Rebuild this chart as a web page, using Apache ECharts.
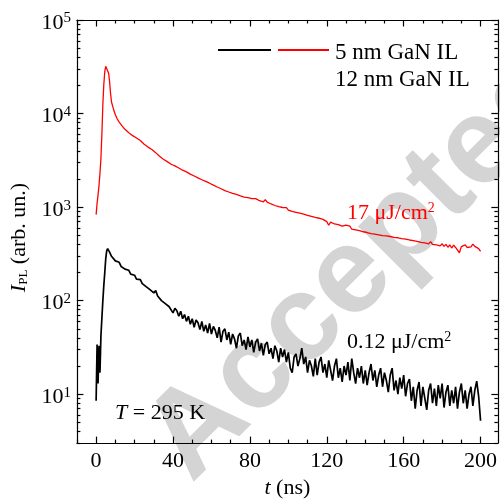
<!DOCTYPE html>
<html><head><meta charset="utf-8">
<script src="https://cdn.jsdelivr.net/npm/echarts@6.0.0/dist/echarts.min.js"></script>
<style>html,body{margin:0;padding:0;background:#fff}#c{width:500px;height:504px}</style>
</head><body><div id="c"></div>
<script>
// ---- data ----
const timeNs = [0,0.5,1,1.5,2,2.5,3,3.5,4,4.5,5,5.5,6,6.5,7,7.5,8,
9,10,11,12,13,14,15,16,17,18,19,20,21,22,23,24,25,26,27,28,29,30,31,32,33,34,35,36,37,38,39,40,
41,42,43,44,45,46,47,48,49,50,51,52,53,54,55,56,57,58,59,60,61,62,63,64,65,66,67,68,69,70,
71,72,73,74,75,76,77,78,79,80,81,82,83,84,85,86,87,88,89,90,91,92,93,94,95,96,97,98,99,100,
101,102,103,104,105,106,107,108,109,110,111,112,113,114,115,116,117,118,119,120,
121,122,123,124,125,126,127,128,129,130,131,132,133,134,135,136,137,138,139,140,
141,142,143,144,145,146,147,148,149,150,151,152,153,154,155,156,157,158,159,160,
161,162,163,164,165,166,167,168,169,170,171,172,173,174,175,176,177,178,179,180,
181,182,183,184,185,186,187,188,189,190,191,192,193,194,195,196,197,198,199,200];

const lowFluence = [8.5,34,13,33,17,42,65,100,145,200,280,340,360,345,330,318,298,
284,266,255,257,232,238,217,208,211,192,
185,187,170,165,168,152,155,141,145,131,
136,121,128,112,114,100,104,93,97,86,
90,74,83,78,68,77,64,71,60,68,
56,64,52,62,58,49,60,47,55,45,
57,44,53,48,40,52,36,47,50,38,
46,34,44,39,31,42,45,33,38,30,
41,32,38,28,36,39,29,35,26,34,
36,27,31,24,33,29,22,31,25,30,
22,28,19,17,25,27,20,24,31,21,
25,17,23,20,15.5,24,16,22,25,17,
21,15,23,18,14,20,24,15,19,13.5,
20,16,22,14,24,17,13,19,15,20,
13,18,12.5,17,21,14,18,12,16,19,
12,17,14,10.5,16,19,11,14,10,15,
11.5,16,9.5,13,14.5,8.5,12,7,11,13.5,
7.5,12,9,6.8,11,13,8,11.5,7.5,12.5,
9,13,7.2,10.5,12.5,7.5,11,8,12,7,
10.5,13,8,11,7,10,12,7.5,11,13.8,9.5,5.2];

const highFluence = [830,1100,1350,1700,2300,3300,6000,12500,20500,28000,32000,32500,31000,27000,22000,16500,13300,
11200,9700,8750,8100,7600,7150,6800,6500,6250,6000,5800,5650,
5480,5300,5150,4920,4700,4600,4380,4250,4120,3950,
3820,3680,3500,3390,3250,3150,3060,2960,2870,2800,
2760,2650,2620,2520,2480,2420,2380,2280,2250,2170,
2150,2080,2050,1990,1960,1900,1880,1830,1800,1740,
1720,1680,1640,1600,1570,1550,1500,1480,1450,1420,
1400,1390,1370,1330,1320,1310,1280,1290,1260,1270,
1230,1210,1230,1190,1170,1180,1140,1200,1130,1110,
1080,1100,1040,1060,1010,1030,990,960,985,930,
950,900,915,880,905,860,875,840,855,815,
830,795,812,775,790,760,772,740,752,700,
640,690,700,660,690,650,675,625,655,640,
610,625,580,600,572,590,560,575,545,560,
535,552,520,538,515,535,505,525,495,515,
492,510,485,502,475,498,470,488,460,480,
455,470,445,465,438,455,430,448,420,440,
415,435,405,428,400,420,395,412,385,405,
380,400,372,395,365,392,370,385,325,378,
360,395,370,388,375,402,380,398,360,336];

const seriesNames = ['5 nm GaN IL', '12 nm GaN IL'];
const xMajorTicks = [0,40,80,120,160,200];
const xMinorTicks = [-10,10,20,30,50,60,70,90,100,110,130,140,150,170,180,190];
const yMajorTicks = [10,100,1000,10000,100000];
const yMinorTicks = [3,4,5,6,7,8,9,20,30,40,50,60,70,80,90,200,300,400,500,600,700,800,900,
  2000,3000,4000,5000,6000,7000,8000,9000,20000,30000,40000,50000,60000,70000,80000,90000];
const xRange = [-10, 209];
const yRange = [3, 100000];

// ---- chart ----
const SERIF = 'Liberation Serif, Times New Roman, serif';
const chart = echarts.init(document.getElementById('c'), null, {renderer: 'canvas'});

function xAx(pos, major) {
  return {
    type: 'value', min: xRange[0], max: xRange[1], position: pos,
    axisLine: {show: major, onZero: false, lineStyle: {color: '#000', width: 1.2}},
    axisTick: {show: true, inside: true, length: major ? 6.5 : 3.5,
      customValues: major ? xMajorTicks : xMinorTicks, lineStyle: {color: '#000', width: 1.2}},
    axisLabel: {show: major && pos === 'bottom', customValues: xMajorTicks, margin: 7,
      color: '#000', fontFamily: SERIF, fontSize: 22},
    splitLine: {show: false},
    name: (major && pos === 'bottom') ? '{i|t} (ns)' : '',
    nameLocation: 'middle', nameGap: 27,
    nameTextStyle: {color: '#000', fontFamily: SERIF, fontSize: 22,
      rich: {i: {fontStyle: 'italic', fontFamily: SERIF, fontSize: 22, color: '#000'}}}
  };
}
function yAx(pos, major) {
  return {
    type: 'log', logBase: 10, min: yRange[0], max: yRange[1], position: pos,
    axisLine: {show: major, onZero: false, lineStyle: {color: '#000', width: 1.2}},
    axisTick: {show: true, inside: true, length: major ? 6.5 : 3.5,
      customValues: major ? yMajorTicks : yMinorTicks, lineStyle: {color: '#000', width: 1.2}},
    minorTick: {show: false},
    axisLabel: {show: major && pos === 'left', customValues: yMajorTicks, margin: 6,
      padding: [6, 0, 0, 0],
      formatter: v => '{b|10}{s|' + Math.round(Math.log10(v)) + '}',
      rich: {
        b: {fontFamily: SERIF, fontSize: 22, color: '#000'},
        s: {fontFamily: SERIF, fontSize: 15, color: '#000', padding: [0, 0, 9, 0]}
      }},
    splitLine: {show: false},
    name: (major && pos === 'left') ? '{i|I}{sub|PL} (arb. un.)' : '',
    nameLocation: 'middle', nameGap: 44, nameRotate: 90,
    nameTextStyle: {color: '#000', fontFamily: SERIF, fontSize: 22, padding: [0, 12, 0, 0],
      rich: {
        i: {fontStyle: 'italic', fontFamily: SERIF, fontSize: 22, color: '#000'},
        sub: {fontFamily: SERIF, fontSize: 13, color: '#000', padding: [10, 0, 0, 0]}
      }}
  };
}

const option = {
  animation: false,
  backgroundColor: '#fff',
  grid: {left: 75.5, right: 0.9, top: 20, bottom: 55, containLabel: false},
  xAxis: [xAx('bottom', true), xAx('bottom', false), xAx('top', true), xAx('top', false)],
  yAxis: [yAx('left', true), yAx('left', false), yAx('right', true), yAx('right', false)],
  legend: [
    {data: [seriesNames[0]], left: 217, top: 44, padding: 0, itemWidth: 53, itemHeight: 12,
      itemGap: 0, selectedMode: false, formatter: () => '', itemStyle: {opacity: 0}},
    {data: [seriesNames[1]], left: 277, top: 44, padding: 0, itemWidth: 51, itemHeight: 12,
      itemGap: 0, selectedMode: false, formatter: () => '', itemStyle: {opacity: 0}}
  ],
  series: [
    {name: seriesNames[0], type: 'line', xAxisIndex: 0, yAxisIndex: 0, symbol: 'none', showSymbol: false,
      lineStyle: {color: '#000', width: 1.7}, itemStyle: {color: '#000'}, z: 3,
      data: timeNs.map((t, i) => [t, lowFluence[i]])},
    {name: seriesNames[1], type: 'line', xAxisIndex: 0, yAxisIndex: 0, symbol: 'none', showSymbol: false,
      lineStyle: {color: '#ff0000', width: 1.3}, itemStyle: {color: '#ff0000'}, z: 3,
      data: timeNs.map((t, i) => [t, highFluence[i]])}
  ],
  graphic: [
    {type: 'text', z: -100, x: 362, y: 266, rotation: Math.PI / 4,
      style: {text: 'Accepted', fontFamily: 'Liberation Sans, Arial, sans-serif', fontWeight: 'bold',
        fontSize: 122, fill: '#d4d4d4', align: 'center', verticalAlign: 'middle'}},
    {type: 'text', z: 100, x: 335, y: 53,
      style: {text: '5 nm GaN IL', fontFamily: SERIF, fontSize: 23, fill: '#000', align: 'left', verticalAlign: 'middle'}},
    {type: 'text', z: 100, x: 335, y: 80,
      style: {text: '12 nm GaN IL', fontFamily: SERIF, fontSize: 23, fill: '#000', align: 'left', verticalAlign: 'middle'}},
    {type: 'text', z: 100, x: 347, y: 213,
      style: {text: '17 μJ/cm{s|2}', fontFamily: SERIF, fontSize: 22, fill: '#ff0000', align: 'left', verticalAlign: 'middle',
        rich: {s: {fontFamily: SERIF, fontSize: 14, fill: '#ff0000', padding: [0, 0, 10, 0]}}}},
    {type: 'text', z: 100, x: 347, y: 342,
      style: {text: '0.12 μJ/cm{s|2}', fontFamily: SERIF, fontSize: 22, fill: '#000', align: 'left', verticalAlign: 'middle',
        rich: {s: {fontFamily: SERIF, fontSize: 14, fill: '#000', padding: [0, 0, 10, 0]}}}},
    {type: 'text', z: 100, x: 115, y: 413,
      style: {text: '{i|T} = 295 K', fontFamily: SERIF, fontSize: 22, fill: '#000', align: 'left', verticalAlign: 'middle',
        rich: {i: {fontFamily: SERIF, fontSize: 22, fontStyle: 'italic', fill: '#000'}}}}
  ]
};
chart.setOption(option);
</script>
</body></html>
